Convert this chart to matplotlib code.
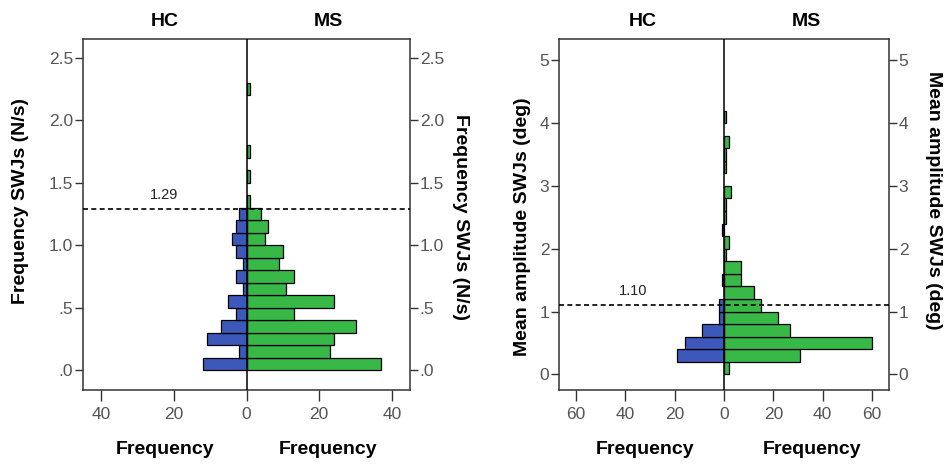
import numpy as np
import matplotlib.pyplot as plt

# Left panel: frequency of SWJs (N/s), bins of 0.1 starting at 0
freq_bins = np.round(np.arange(0.0, 2.3, 0.1), 2)
freq_ms = [37, 23, 24, 30, 13, 24, 11, 13, 9, 10, 5, 6, 4, 1, 0, 1, 0, 1, 0, 0, 0, 0, 1]
freq_hc = [12, 2, 11, 7, 3, 5, 1, 3, 1, 3, 4, 3, 2, 0, 0, 0, 0, 0, 0, 0, 0, 0, 0]
freq_cut = 1.29
freq_yticks = [0.0, 0.5, 1.0, 1.5, 2.0, 2.5]
freq_yticklabels = ['.0', '.5', '1.0', '1.5', '2.0', '2.5']
freq_xticks = [-40, -20, 0, 20, 40]

# Right panel: mean amplitude of SWJs (deg), bins of 0.2 starting at 0
amp_bins = np.round(np.arange(0.0, 4.2, 0.2), 2)
amp_ms = [2, 31, 60, 27, 22, 15, 12, 7, 7, 1, 2, 0, 1, 1, 3, 0, 1, 1, 2, 0, 1]
amp_hc = [0, 19, 16, 9, 2, 2, 0, 1, 0, 0, 0, 1, 0, 0, 0, 0, 0, 0, 0, 0, 0]
amp_cut = 1.10
amp_yticks = [0, 1, 2, 3, 4, 5]
amp_yticklabels = ['0', '1', '2', '3', '4', '5']
amp_xticks = [-60, -40, -20, 0, 20, 40, 60]

GREEN = '#37b847'
BLUE = '#3c58bb'
TICK_COL = '#555555'
W, H = 947, 466

plt.rcParams['font.family'] = ['Liberation Sans', 'DejaVu Sans']

fig = plt.figure(figsize=(W / 100, H / 100), dpi=100)


def px_axes(x0, y0, x1, y1):
    return fig.add_axes([x0 / W, 1 - y1 / H, (x1 - x0) / W, (y1 - y0) / H])


def pyramid(ax, bins, ms, hc, width, cut, xlim, ylim, yticks, yticklabels,
            xticks, cut_x):
    bins = np.asarray(bins)
    ms = np.asarray(ms)
    hc = np.asarray(hc)
    m = ms > 0
    ax.barh(bins[m], ms[m], height=width, align='edge', color=GREEN,
            edgecolor='black', linewidth=0.9, zorder=2)
    h = hc > 0
    ax.barh(bins[h], -hc[h], height=width, align='edge', color=BLUE,
            edgecolor='black', linewidth=0.9, zorder=2)
    ax.axvline(0, color='black', lw=1.1, zorder=3)
    ax.axhline(cut, color='black', lw=1.2, ls=(0, (3, 2)), zorder=4)
    ax.text(cut_x, cut + 0.02 * (ylim[1] - ylim[0]), f'{cut:.2f}',
            ha='center', va='bottom', fontsize=10.5, color='#222222')
    ax.set_xlim(*xlim)
    ax.set_ylim(*ylim)
    ax.set_yticks(yticks)
    ax.set_yticklabels(yticklabels)
    ax.set_xticks(xticks)
    ax.set_xticklabels([str(abs(t)) for t in xticks])
    ax.tick_params(axis='y', right=True, labelright=True, length=6,
                   width=1, color='#333333', labelcolor=TICK_COL,
                   labelsize=12.5, pad=1)
    ax.tick_params(axis='x', length=8, width=1, color='#333333',
                   labelcolor=TICK_COL, labelsize=12.5, pad=4)
    for s in ax.spines.values():
        s.set_color('#333333')
        s.set_linewidth(1.1)


ax1 = px_axes(83, 39, 410, 390)
pyramid(ax1, freq_bins, freq_ms, freq_hc, 0.1, freq_cut, (-45, 45),
        (-0.16, 2.65), freq_yticks, freq_yticklabels, freq_xticks, -22.6)

ax2 = px_axes(559, 39, 889, 390)
pyramid(ax2, amp_bins, amp_ms, amp_hc, 0.2, amp_cut, (-67, 67),
        (-0.25, 5.34), amp_yticks, amp_yticklabels, amp_xticks, -37)


def ftext(x, y, s, **kw):
    fig.text(x / W, 1 - y / H, s, ha='center', va='center',
             fontweight='bold', **kw)


for x in (165, 643):
    ftext(x, 21, 'HC', fontsize=14)
for x in (328, 806):
    ftext(x, 21, 'MS', fontsize=14)
for x in (165, 328, 645, 812):
    ftext(x, 450, 'Frequency', fontsize=14)

ftext(21, 201, 'Frequency SWJs (N/s)', fontsize=14, rotation=90)
ftext(460, 217, 'Frequency SWJs (N/s)', fontsize=14, rotation=270)
ftext(522, 227, 'Mean amplitude SWJs (deg)', fontsize=14, rotation=90)
ftext(933, 200, 'Mean amplitude SWJs (deg)', fontsize=14, rotation=270)

fig.savefig('out.png', dpi=100)
